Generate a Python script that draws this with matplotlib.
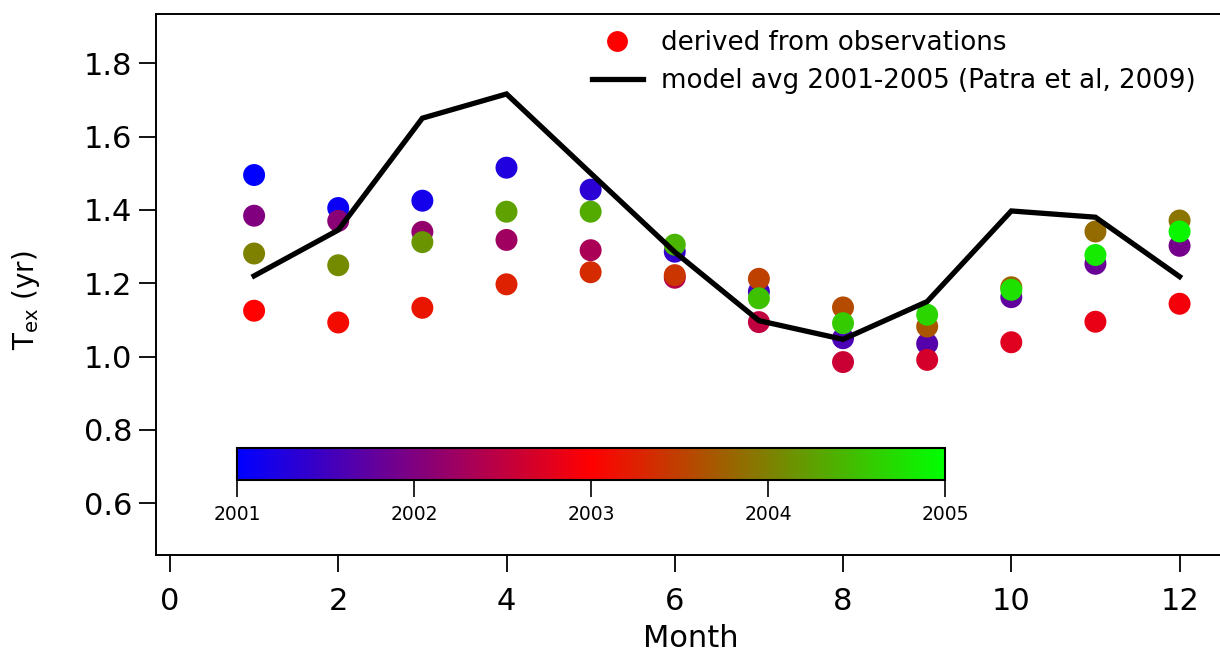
import numpy as np
import matplotlib
matplotlib.use("Agg")
import matplotlib.pyplot as plt
from matplotlib.colors import LinearSegmentedColormap, Normalize
from matplotlib.lines import Line2D

plt.rcParams['font.family'] = ['DejaVu Sans']

# ---- data ----
months = [1, 2, 3, 4, 5, 6, 7, 8, 9, 10, 11, 12]
model_avg = [1.22, 1.345, 1.65, 1.716, 1.50, 1.285, 1.098, 1.047, 1.15, 1.397, 1.38, 1.218]

obs_2001 = [1.495, 1.405, 1.425, 1.515, 1.455, 1.286, 1.177, 1.050, 1.035, 1.162, 1.253, 1.302]
obs_2002 = [1.384, 1.370, 1.340, 1.318, 1.290, 1.215, 1.094, 0.985, 0.991, 1.039, 1.095, 1.144]
obs_2003 = [1.125, 1.093, 1.133, 1.197, 1.230, 1.222, 1.212, 1.134, 1.082, 1.189, 1.341, 1.371]
obs_2004 = [1.281, 1.249, 1.312, 1.395, 1.395, 1.305, 1.159, 1.091, 1.114, 1.182, 1.277, 1.341]
obs_years = [2001, 2002, 2003, 2004]

cbar_ticks = [2001, 2002, 2003, 2004, 2005]
x_ticks = [0, 2, 4, 6, 8, 10, 12]
y_ticks = [0.6, 0.8, 1.0, 1.2, 1.4, 1.6, 1.8]

# ---- figure ----
W, H = 1220, 654
fig = plt.figure(figsize=(W / 100, H / 100), dpi=100)
ax = fig.add_axes([156/W, 1 - 555/H, (1225-156)/W, (555-14)/H])

cmap = LinearSegmentedColormap.from_list(
    "yr", [(0, 0, 1), (0.5, 0, 0.5), (1, 0, 0), (0.5, 0.5, 0), (0, 1, 0)])
norm = Normalize(vmin=2001, vmax=2005)

all_obs = [obs_2001, obs_2002, obs_2003, obs_2004]
for yr, vals in zip(obs_years, all_obs):
    t = [yr + (m - 1) / 12.0 for m in months]
    ax.scatter(months, vals, c=t, cmap=cmap, norm=norm, s=250,
               edgecolors='none', zorder=2)

ax.plot(months, model_avg, color='black', lw=3.8, zorder=3,
        solid_joinstyle='miter')

ax.set_xlim(-0.166, 12.54)
ax.set_ylim(0.459, 1.934)
ax.set_xticks(x_ticks)
ax.set_yticks(y_ticks)
ax.set_yticklabels([f"{v:.1f}" for v in y_ticks])
ax.tick_params(direction='out', length=12, width=1.3, labelsize=22)
ax.tick_params(axis='x', pad=11)
ax.tick_params(axis='y', pad=5)
for sp in ax.spines.values():
    sp.set_linewidth(1.4)
ax.set_xlabel("Month", fontsize=22, labelpad=6)
ax.set_ylabel(r"T$_{\mathregular{ex}}$ (yr)", fontsize=20)
ax.yaxis.set_label_coords((42 - 156) / (1225 - 156), (555 - 300) / (555 - 14))

# legend
h1 = Line2D([], [], marker='o', color='none', markerfacecolor='red',
            markeredgecolor='none', markersize=15)
h2 = Line2D([], [], color='black', lw=3.8)
leg = fig.legend([h1, h2], ["derived from observations",
                            "model avg 2001-2005 (Patra et al, 2009)"],
                 loc='upper left', bbox_to_anchor=(592/W, 1 - 30/H),
                 frameon=False, fontsize=18.8, handlelength=1.95,
                 handletextpad=0.7, labelspacing=0.47, borderpad=0,
                 borderaxespad=0)

# colorbar
cax = fig.add_axes([237/W, 1 - 480/H, (945-237)/W, 32/H])
cb = fig.colorbar(plt.cm.ScalarMappable(norm=norm, cmap=cmap), cax=cax,
                  orientation='horizontal', ticks=cbar_ticks)
cb.ax.tick_params(labelsize=13.5, length=12, width=1.2, direction='out', pad=6)
cb.outline.set_linewidth(1.5)
cb.ax.set_xticklabels([str(v) for v in cbar_ticks])

fig.savefig("out.png", dpi=100)
